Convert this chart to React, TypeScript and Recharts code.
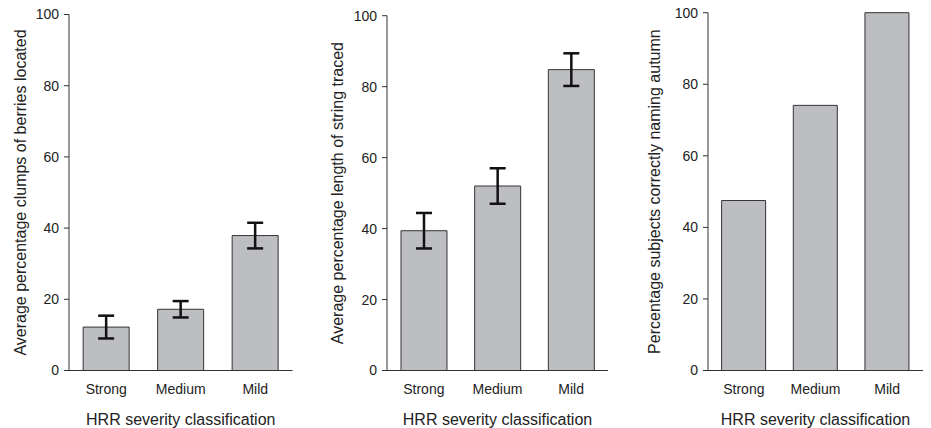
import React from 'react';
import { BarChart, Bar, XAxis, YAxis, ErrorBar } from 'recharts';

// categories and values
const categories = ['Strong', 'Medium', 'Mild'];
const berriesMean = [12.2, 17.2, 37.9];
const berriesErr = [3.2, 2.3, 3.6];
const stringMean = [39.4, 52.0, 84.8];
const stringErr = [5.0, 5.0, 4.6];
const autumnPct = [47.5, 74.1, 100];
const yTicks = [0, 20, 40, 60, 80, 100];
const edgeTicks = [0, 1, 2, 3];

const FONT = '"Liberation Sans", Arial, sans-serif';
const INK = '#222';

interface PanelProps {
  left: number;
  width: number;
  axisWidth: number;
  right: number;
  top: number;
  labelOffset: number;
  yLabel: string;
  values: number[];
  errors?: number[];
}

const Panel: React.FC<PanelProps> = ({ left, width, axisWidth, right, top, labelOffset, yLabel, values, errors }) => {
  const data = categories.map((c, i) => ({ name: c, value: values[i], err: errors ? errors[i] : 0 }));
  return (
    <div style={{ position: 'absolute', left, top: 0 }}>
      <BarChart width={width} height={428} data={data} margin={{ top, right, bottom: 3.5, left: 0 }} barCategoryGap="19%">
        {/* tick marks sit on category boundaries, so they come from a numeric axis (ids sort, so "a-" keeps it next to the plot) */}
        <XAxis
          xAxisId="a-edge"
          type="number"
          domain={[0, 3]}
          ticks={edgeTicks}
          allowDataOverflow
          height={1}
          tick={false}
          tickSize={5}
          tickLine={{ stroke: '#333' }}
          axisLine={{ stroke: '#333' }}
        />
        <XAxis
          xAxisId="b-cat"
          dataKey="name"
          height={53}
          tickLine={false}
          axisLine={false}
          tickSize={5}
          tickMargin={8}
          tick={{ fill: INK, fontSize: 14, fontFamily: FONT }}
          label={{ value: 'HRR severity classification', position: 'insideBottom', offset: 0, fill: INK, fontSize: 16, fontFamily: FONT }}
        />
        <YAxis
          width={axisWidth}
          domain={[0, 100]}
          ticks={yTicks}
          interval={0}
          tickSize={5}
          tickMargin={5}
          tickLine={{ stroke: '#333' }}
          axisLine={{ stroke: '#333' }}
          tick={{ fill: INK, fontSize: 14, fontFamily: FONT }}
          label={{ value: yLabel, angle: -90, position: 'insideLeft', offset: labelOffset, fill: INK, fontSize: 16, fontFamily: FONT, style: { textAnchor: 'middle' } }}
        />
        <Bar xAxisId="b-cat" dataKey="value" fill="#bdbec2" stroke="#333" strokeWidth={1} isAnimationActive={false}>
          {errors && <ErrorBar dataKey="err" width={8} strokeWidth={2.5} stroke="#111" direction="y" />}
        </Bar>
      </BarChart>
    </div>
  );
};

export default function App() {
  return (
    <div style={{ position: 'absolute', left: 0, top: 0, width: 931, height: 428, background: '#fff' }}>
      <Panel left={0} width={310} axisWidth={69} right={17.5} top={14.5} labelOffset={20}
        yLabel="Average percentage clumps of berries located" values={berriesMean} errors={berriesErr} />
      <Panel left={310} width={310} axisWidth={77} right={12} top={15.7} labelOffset={27.5}
        yLabel="Average percentage length of string traced" values={stringMean} errors={stringErr} />
      <Panel left={620} width={311} axisWidth={88} right={8} top={12.7} labelOffset={34}
        yLabel="Percentage subjects correctly naming autumn" values={autumnPct} />
    </div>
  );
}
